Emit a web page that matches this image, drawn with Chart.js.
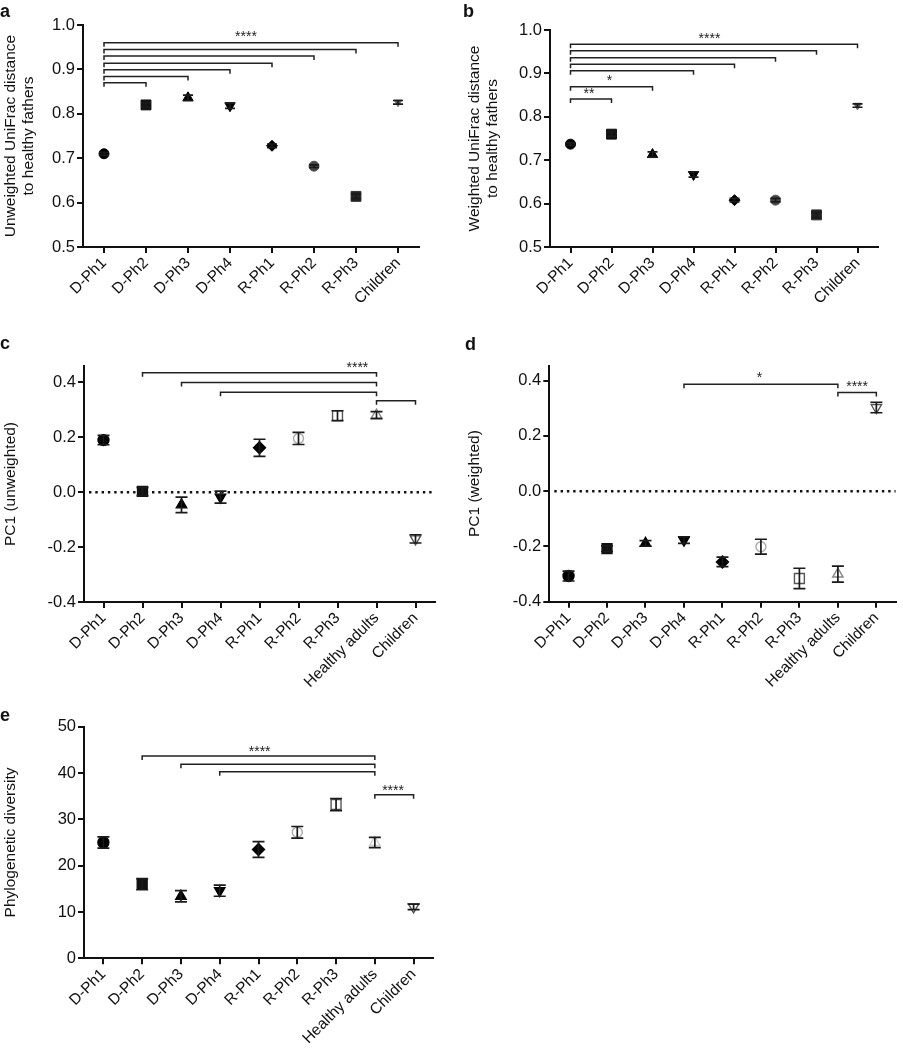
<!DOCTYPE html>
<html>
<head>
<meta charset="utf-8">
<script src="https://cdn.jsdelivr.net/npm/chart.js@4.4.1/dist/chart.umd.min.js"></script>
<style>
  html, body { margin: 0; padding: 0; background: #fff; }
  #wrap { position: relative; width: 903px; height: 1050px; overflow: hidden; font-family: "Liberation Sans", Arial, sans-serif; }
  canvas { position: absolute; }
  .lbl { position: absolute; font-weight: bold; font-size: 18px; line-height: 1; color: #111; }
</style>
</head>
<body>
<div id="wrap">
  <canvas id="ch-a" width="450" height="320" style="left:0;top:0"></canvas>
  <canvas id="ch-b" width="453" height="320" style="left:450px;top:0"></canvas>
  <canvas id="ch-c" width="450" height="380" style="left:0;top:320px"></canvas>
  <canvas id="ch-d" width="453" height="380" style="left:450px;top:320px"></canvas>
  <canvas id="ch-e" width="450" height="360" style="left:0;top:690px"></canvas>
  <div class="lbl" style="left:0;top:2px">a</div>
  <div class="lbl" style="left:463px;top:2px">b</div>
  <div class="lbl" style="left:0;top:334px">c</div>
  <div class="lbl" style="left:465px;top:335px">d</div>
  <div class="lbl" style="left:0;top:706px">e</div>
</div>
<script>
const FONT = '"Liberation Sans", Arial, sans-serif'

// categories
const catsAB = ['D-Ph1', 'D-Ph2', 'D-Ph3', 'D-Ph4', 'R-Ph1', 'R-Ph2', 'R-Ph3', 'Children']
const catsCDE = ['D-Ph1', 'D-Ph2', 'D-Ph3', 'D-Ph4', 'R-Ph1', 'R-Ph2', 'R-Ph3', 'Healthy adults', 'Children']

// a: unweighted UniFrac distance to healthy fathers (mean, sem)
const unwDist = [0.710, 0.820, 0.836, 0.818, 0.728, 0.682, 0.614, 0.826]
const unwDistErr = [0.003, 0.005, 0.006, 0.006, 0.004, 0.003, 0.005, 0.004]
// b: weighted UniFrac distance to healthy fathers
const wDist = [0.737, 0.760, 0.713, 0.667, 0.608, 0.608, 0.574, 0.826]
const wDistErr = [0.003, 0.005, 0.006, 0.006, 0.004, 0.004, 0.006, 0.004]
// c: PC1 unweighted
const pc1Unw = [0.190, 0.003, -0.046, -0.018, 0.162, 0.196, 0.279, 0.281, -0.170]
const pc1UnwErr = [0.017, 0.015, 0.028, 0.022, 0.031, 0.022, 0.018, 0.013, 0.015]
// d: PC1 weighted
const pc1W = [-0.307, -0.208, -0.189, -0.177, -0.256, -0.201, -0.316, -0.300, 0.303]
const pc1WErr = [0.018, 0.010, 0.010, 0.012, 0.017, 0.027, 0.037, 0.029, 0.019]
// e: phylogenetic diversity
const phyloDiv = [25.0, 16.0, 13.4, 14.6, 23.5, 27.2, 33.2, 25.0, 11.1]
const phyloDivErr = [1.2, 1.2, 1.2, 1.2, 1.7, 1.25, 1.3, 1.1, 0.6]

// tick labels
const ticksDist = [0.5, 0.6, 0.7, 0.8, 0.9, 1.0]
const ticksPC = [-0.4, -0.2, 0, 0.2, 0.4]
const ticksPD = [0, 10, 20, 30, 40, 50]

// significance brackets [from index, to index, y value] and stars [x index, y value, text]
const bracketsA = [[0, 1, 0.870], [0, 2, 0.884], [0, 3, 0.899], [0, 4, 0.914], [0, 5, 0.930], [0, 6, 0.945], [0, 7, 0.960]]
const starsA = [[3.38, 0.981, '****']]
const bracketsB = [[0, 1, 0.841], [0, 2, 0.869], [0, 3, 0.906], [0, 4, 0.921], [0, 5, 0.936], [0, 6, 0.952], [0, 7, 0.967]]
const starsB = [[0.45, 0.862, '**'], [0.95, 0.892, '*'], [3.39, 0.988, '****']]
const bracketsC = [[1, 7, 0.435], [2, 7, 0.400], [3, 7, 0.364], [7, 8, 0.333]]
const starsC = [[6.51, 0.467, '****']]
const bracketsD = [[3, 7, 0.387], [7, 8, 0.357]]
const starsD = [[4.96, 0.423, '*'], [7.5, 0.391, '****']]
const bracketsE = [[1, 7, 43.7], [2, 7, 41.9], [3, 7, 40.3], [7, 8, 35.3]]
const starsE = [[4.03, 45.3, '****'], [7.47, 37.0, '****']]

// marker styles
const styleAB = {
  shape: ['circle', 'rect', 'triangle', 'triangle', 'rectRot', 'circle', 'rect', 'triangle'],
  rot: [0, 0, 0, 180, 0, 0, 0, 180],
  radius: [5, 7, 6, 6, 5.5, 5, 7, 4.5],
  fill: ['#000', '#111', '#000', '#000', '#000', '#444', '#222', '#666'],
  stroke: ['#000', '#111', '#000', '#000', '#000', '#555', '#333', '#777'],
  bw: 1
}
function styleCDE(healthyColor) {
  return {
    shape: ['circle', 'rect', 'triangle', 'triangle', 'rectRot', 'circle', 'rect', 'triangle', 'triangle'],
    rot: [0, 0, 0, 180, 0, 0, 0, 0, 180],
    radius: [5.5, 7, 6, 6, 6, 5, 7, 6, 6],
    fill: ['#000', '#111', '#000', '#000', '#000', 'rgba(0,0,0,0)', 'rgba(0,0,0,0)', 'rgba(0,0,0,0)', 'rgba(0,0,0,0)'],
    stroke: ['#000', '#111', '#000', '#000', '#000', '#aaa', '#555', healthyColor, '#555'],
    bw: 1.4
  }
}

const annot = {
  id: 'annot',
  beforeDatasetsDraw(chart, args, o) {
    if (!o.zero) return
    const { ctx, chartArea, scales: { y } } = chart
    const yy = y.getPixelForValue(0)
    ctx.save()
    ctx.strokeStyle = '#111'
    ctx.lineWidth = 2.6
    ctx.setLineDash([2.4, 3.9])
    ctx.beginPath()
    ctx.moveTo(chartArea.left + 5, yy)
    ctx.lineTo(chartArea.right, yy)
    ctx.stroke()
    ctx.restore()
  },
  afterDatasetsDraw(chart, args, o) {
    const { ctx, scales: { x, y } } = chart
    const vals = chart.data.datasets[0].data
    ctx.save()
    ctx.strokeStyle = '#1a1a1a'
    ctx.lineWidth = 1.7
    o.err.forEach((e, i) => {
      const px = x.getPixelForValue(i)
      const hi = y.getPixelForValue(vals[i] + e)
      const lo = y.getPixelForValue(vals[i] - e)
      ctx.beginPath()
      ctx.moveTo(px, hi); ctx.lineTo(px, lo)
      ctx.moveTo(px - o.cap, hi); ctx.lineTo(px + o.cap, hi)
      ctx.moveTo(px - o.cap, lo); ctx.lineTo(px + o.cap, lo)
      ctx.stroke()
    })
    ctx.strokeStyle = '#222'
    ctx.lineWidth = 1.5
    o.brackets.forEach(([i1, i2, v]) => {
      const x1 = x.getPixelForValue(i1), x2 = x.getPixelForValue(i2), yy = y.getPixelForValue(v)
      ctx.beginPath()
      ctx.moveTo(x1, yy + 4); ctx.lineTo(x1, yy); ctx.lineTo(x2, yy); ctx.lineTo(x2, yy + 4)
      ctx.stroke()
    })
    ctx.fillStyle = '#222'
    ctx.font = '14px ' + FONT
    ctx.textAlign = 'center'
    ctx.textBaseline = 'alphabetic'
    o.stars.forEach(([i, v, t]) => {
      ctx.fillText(t, x.getPixelForValue(i), y.getPixelForValue(v) + 8)
    })
    ctx.restore()
  }
}

function makeChart(id, o) {
  const st = o.style
  new Chart(document.getElementById(id), {
    type: 'line',
    data: {
      labels: o.labels,
      datasets: [{
        data: o.values,
        showLine: false,
        pointStyle: st.shape,
        pointRotation: st.rot,
        pointRadius: st.radius,
        pointBackgroundColor: st.fill,
        pointBorderColor: st.stroke,
        pointBorderWidth: st.bw
      }]
    },
    options: {
      responsive: false,
      animation: false,
      events: [],
      layout: { padding: o.pad },
      plugins: {
        legend: { display: false },
        tooltip: { enabled: false },
        annot: { err: o.err, cap: o.cap, brackets: o.brackets, stars: o.stars, zero: !!o.zero }
      },
      scales: {
        x: {
          offset: true,
          grid: { drawOnChartArea: false, drawTicks: true, tickLength: 6, color: '#111', lineWidth: 2 },
          border: { color: '#111', width: 2 },
          ticks: { autoSkip: false, minRotation: 45, maxRotation: 45, padding: 1, color: '#111', font: { size: 15.5, family: FONT } },
          afterFit: s => { s.height = o.xh }
        },
        y: {
          min: o.min,
          max: o.max,
          afterBuildTicks: s => { s.ticks = o.ticks.map(v => ({ value: v })) },
          grid: { drawOnChartArea: false, drawTicks: true, tickLength: 6, color: '#111', lineWidth: 2 },
          border: { color: '#111', width: 2 },
          ticks: { padding: 2, color: '#111', font: { size: 16.5, family: FONT }, callback: o.fmt },
          title: { display: true, text: o.title, color: '#111', font: { size: 15.5, family: FONT, lineHeight: 1.15 }, padding: { top: 2, bottom: 0 } },
          afterFit: s => { s.width = o.yw }
        }
      }
    },
    plugins: [annot]
  })
}

const fmt1 = v => v.toFixed(1)

makeChart('ch-a', {
  labels: catsAB, values: unwDist, err: unwDistErr, cap: 5, style: styleAB,
  brackets: bracketsA, stars: starsA, min: 0.5, max: 1.0, ticks: ticksDist, fmt: fmt1,
  title: ['Unweighted UniFrac distance', 'to healthy fathers'],
  pad: { left: 0, top: 25, right: 31, bottom: 0 }, yw: 83, xh: 73
})
makeChart('ch-b', {
  labels: catsAB, values: wDist, err: wDistErr, cap: 5, style: styleAB,
  brackets: bracketsB, stars: starsB, min: 0.5, max: 1.0, ticks: ticksDist, fmt: fmt1,
  title: ['Weighted UniFrac distance', 'to healthy fathers'],
  pad: { left: 14, top: 30, right: 25, bottom: 0 }, yw: 86, xh: 73
})
makeChart('ch-c', {
  labels: catsCDE, values: pc1Unw, err: pc1UnwErr, cap: 6, style: styleCDE('#888'),
  brackets: bracketsC, stars: starsC, min: -0.4, max: 0.46, ticks: ticksPC, fmt: fmt1, zero: true,
  title: 'PC1 (unweighted)',
  pad: { left: 0, top: 46, right: 15, bottom: 0 }, yw: 84, xh: 98
})
makeChart('ch-d', {
  labels: catsCDE, values: pc1W, err: pc1WErr, cap: 6, style: styleCDE('#888'),
  brackets: bracketsD, stars: starsD, min: -0.4, max: 0.455, ticks: ticksPC, fmt: fmt1, zero: true,
  title: 'PC1 (weighted)',
  pad: { left: 14, top: 45.5, right: 2.5, bottom: 0 }, yw: 85.3, xh: 98.3
})
makeChart('ch-e', {
  labels: catsCDE, values: phyloDiv, err: phyloDivErr, cap: 6, style: styleCDE('#ccc'),
  brackets: bracketsE, stars: starsE, min: 0, max: 50, ticks: ticksPD, fmt: v => String(v),
  title: 'Phylogenetic diversity',
  pad: { left: 0, top: 36.7, right: 17, bottom: 0 }, yw: 84, xh: 91.7
})
</script>
</body>
</html>
